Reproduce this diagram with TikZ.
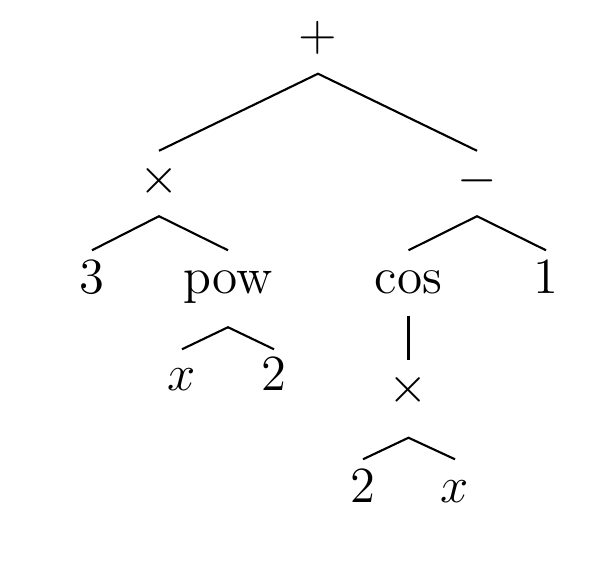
\documentclass[tikz,border=0pt]{standalone}
\usepackage{amsmath}
\usepackage{tikz}

\begin{document}
\begin{tikzpicture}[
  x=0.01cm, y=-0.01cm,
  font=\fontsize{14.6}{17}\selectfont,
  term/.style={anchor=base, inner sep=0pt, text height=4.2mm, text depth=2.2mm},
  deep/.style={term, text depth=3.35mm},
  link/.style={line width=0.6pt},
]
\useasboundingbox (0,0) rectangle (616,561);

% ---- root and first level ----------------------------------------------
\node[term] (plus)  at (318,51)    {$+$};
\node[term] (times) at (159,193.5) {$\times$};
\node[term] (minus) at (477,193.5) {$-$};

% ---- second level ------------------------------------------------------
\node[term] (three) at (92,293)  {$3$};
\node[deep] (pow)   at (228,293) {pow};
\node[term] (cos)   at (408.5,293) {cos};
\node[term] (one)   at (546,293) {$1$};

% ---- arguments of pow and cos ------------------------------------------
\node[term, text height=4.05mm] (powx) at (182,390.5) {$x$};
\node[term, text height=4.05mm] (powtwo) at (274,390.5) {$2$};
\node[deep, text depth=3.45mm] (inner) at (408.5,402.5) {$\times$};
\node[term] (intwo) at (363,502) {$2$};
\node[term] (inx)   at (455,502) {$x$};

% ---- edges -------------------------------------------------------------
\draw[link] (times.north) -- (plus.south) -- (minus.north);
\draw[link] (three.north) -- (times.south) -- (pow.north);
\draw[link] (cos.north) -- (minus.south) -- (one.north);
\draw[link] (powx.north) -- (pow.south) -- (powtwo.north);
\draw[link] (cos.south) -- (inner.north);
\draw[link] (intwo.north) -- (inner.south) -- (inx.north);

\end{tikzpicture}
\end{document}
